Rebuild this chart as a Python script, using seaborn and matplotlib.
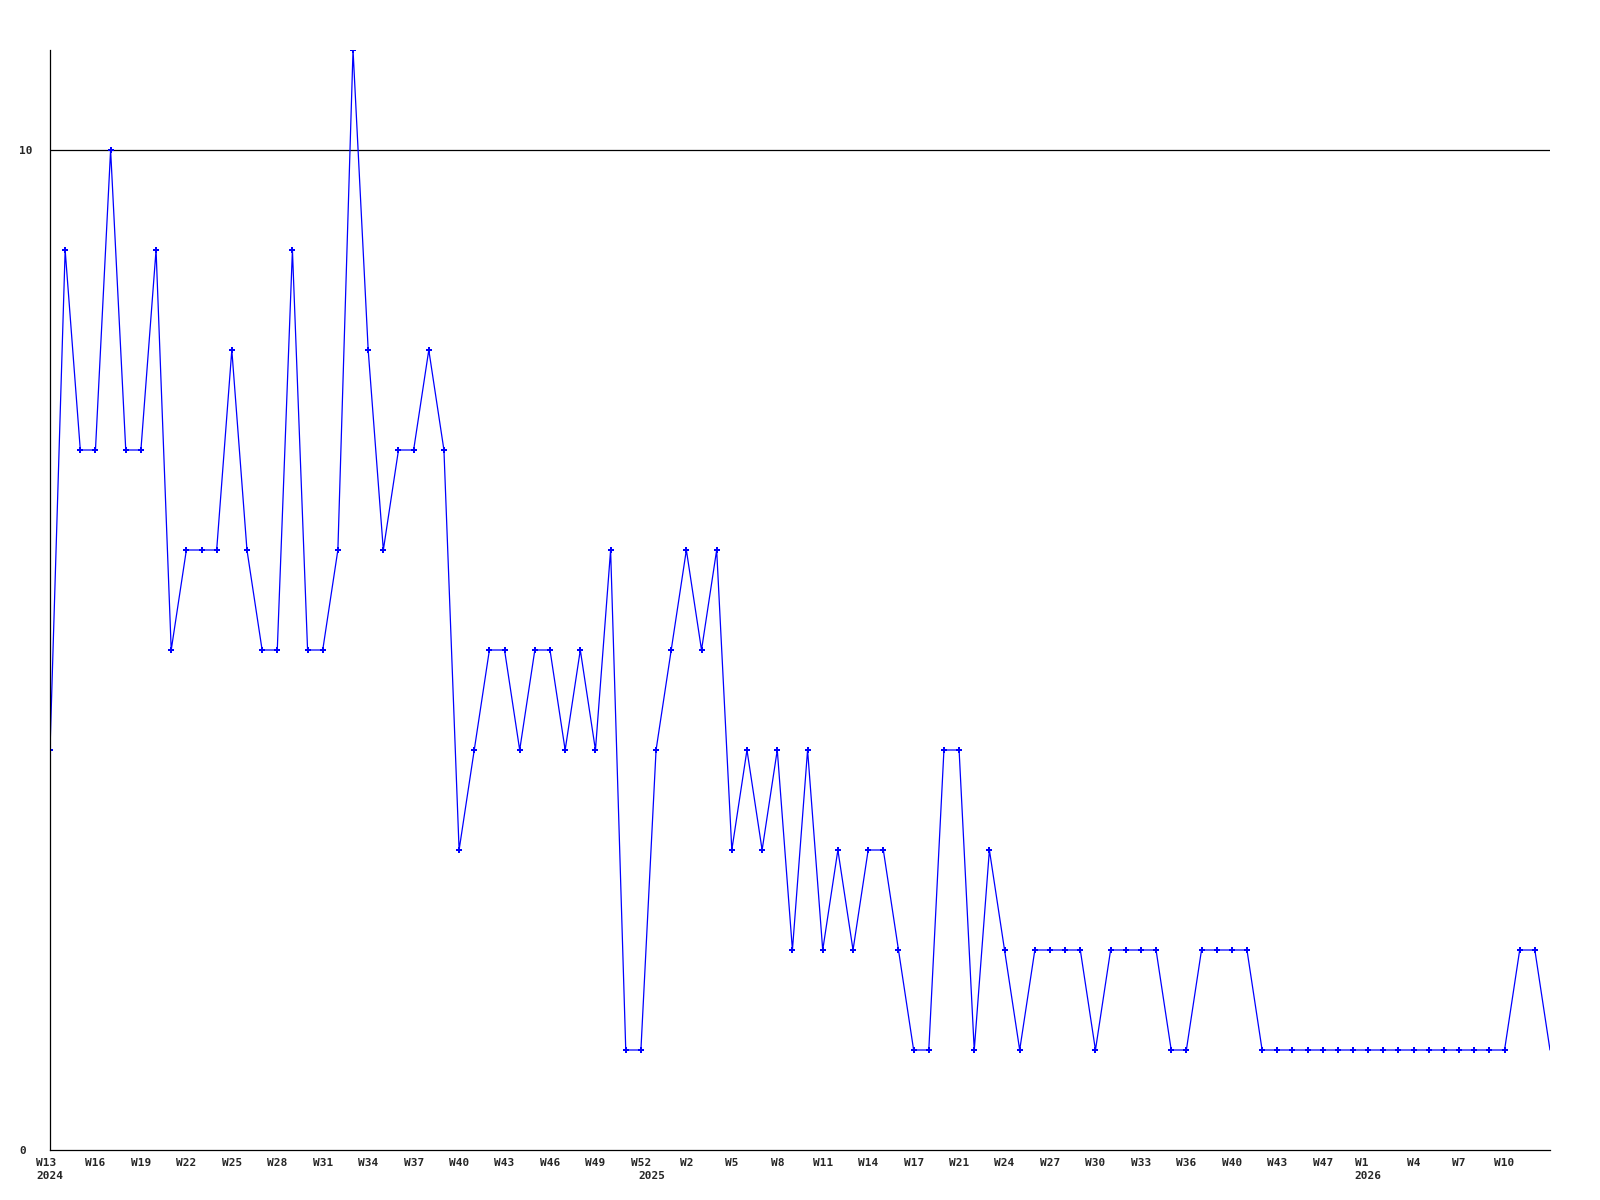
import matplotlib
matplotlib.use("Agg")
import matplotlib.pyplot as plt
import seaborn as sns
import numpy as np

# weekly counts, W13 2024 .. W12 2026
values = [4, 9, 7, 7, 10, 7, 7, 9, 5, 6,
          6, 6, 8, 6, 5, 5, 9, 5, 5, 6,
          11, 8, 6, 7, 7, 8, 7, 3, 4, 5,
          5, 4, 5, 5, 4, 5, 4, 6, 1, 1,
          4, 5, 6, 5, 6, 3, 4, 3, 4, 2,
          4, 2, 3, 2, 3, 3, 2, 1, 1, 4,
          4, 1, 3, 2, 1, 2, 2, 2, 2, 1,
          2, 2, 2, 2, 1, 1, 2, 2, 2, 2,
          1, 1, 1, 1, 1, 1, 1, 1, 1, 1,
          1, 1, 1, 1, 1, 1, 1, 2, 2, 1]

week_labels = ["W13", "W16", "W19", "W22", "W25", "W28", "W31", "W34", "W37",
               "W40", "W43", "W46", "W49", "W52", "W2", "W5", "W8", "W11",
               "W14", "W17", "W21", "W24", "W27", "W30", "W33", "W36", "W40",
               "W43", "W47", "W1", "W4", "W7", "W10"]
week_ticks = list(range(0, 3 * len(week_labels), 3))

year_labels = ["2024", "2025", "2026"]
year_ticks = [0, 39.7, 87]

y_ticks = [0, 10]

sns.set_style("white")
plt.rcParams['font.family'] = ['DejaVu Sans Mono', 'DejaVu Sans']

fig = plt.figure(figsize=(16, 12), dpi=100)
ax = fig.add_axes([50 / 1600, 50 / 1200, 1500 / 1600, 1100 / 1200])

x = np.arange(len(values))
sns.lineplot(x=x, y=values, ax=ax, color="blue", linewidth=0.9,
             marker="P", markersize=4.5, markeredgewidth=0,
             markevery=list(range(len(values) - 1)))

ax.axhline(10, color="black", linewidth=0.9, zorder=0)

ax.set_xlim(0, len(values) - 1)
ax.set_ylim(0, 11)

# major ticks: week numbers, year appended under the tick where it coincides
major_labels = []
for t, w in zip(week_ticks, week_labels):
    lab = w
    for yt, yl in zip(year_ticks, year_labels):
        if yt == t:
            lab = w + "\n" + yl
    major_labels.append(lab)
ax.set_xticks(week_ticks)
ax.set_xticklabels(major_labels)

# years that fall between week ticks go on a minor tick, one line lower
minor_pos = [yt for yt in year_ticks if yt not in week_ticks]
minor_lab = [yl for yt, yl in zip(year_ticks, year_labels) if yt not in week_ticks]
ax.set_xticks(minor_pos, minor=True)
ax.set_xticklabels(minor_lab, minor=True)

for lbl in ax.get_xticklabels() + ax.get_xticklabels(minor=True):
    lbl.set_multialignment("left")
    lbl.set_linespacing(1.35)
    lbl.set_fontweight("bold")
    lbl.set_fontsize(8)

ax.set_yticks(y_ticks)
ax.set_yticklabels([str(v) for v in y_ticks], fontsize=8, fontweight="bold", ha="left")

ax.tick_params(axis="x", which="major", length=0, pad=6)
ax.tick_params(axis="x", which="minor", length=0, pad=15)
ax.tick_params(axis="y", length=0, pad=22)

for side in ["top", "right"]:
    ax.spines[side].set_visible(False)
for side in ["left", "bottom"]:
    ax.spines[side].set_color("black")
    ax.spines[side].set_linewidth(0.9)

ax.set_xlabel("")
ax.set_ylabel("")
ax.grid(False)

fig.savefig("out.png", dpi=100, facecolor="white")
